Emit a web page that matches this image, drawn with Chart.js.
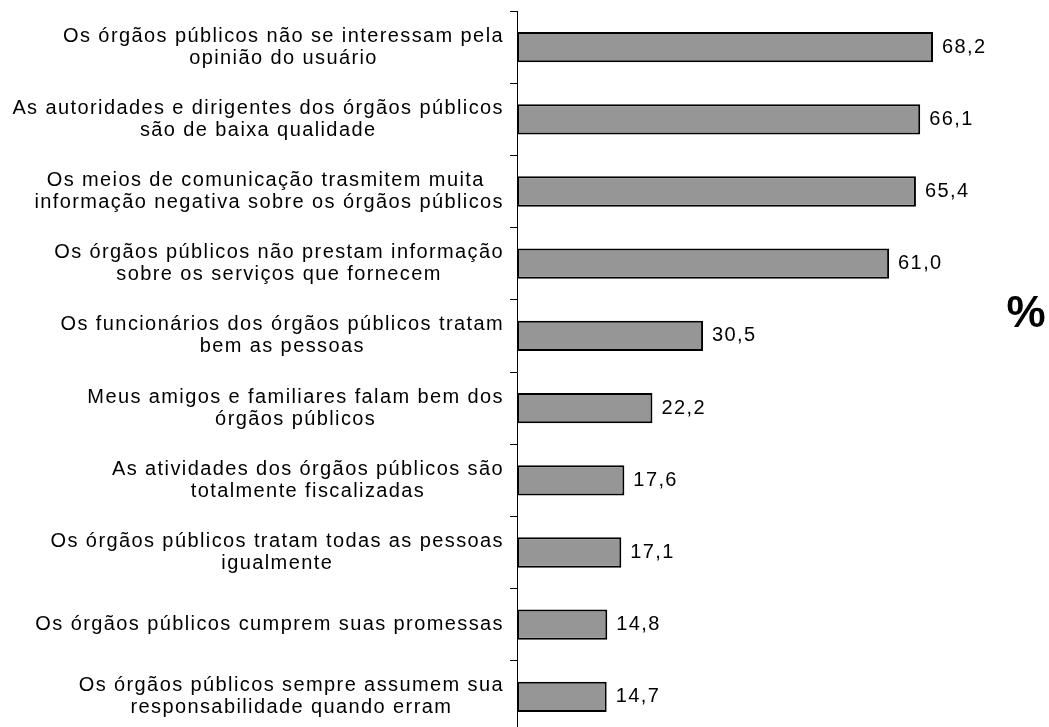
<!DOCTYPE html>
<html>
<head>
<meta charset="utf-8">
<script src="https://cdn.jsdelivr.net/npm/chart.js@4/dist/chart.umd.min.js"></script>
<style>
html,body{margin:0;padding:0;background:#fff;overflow:hidden;}
#wrap{width:1049px;height:733px;}
</style>
</head>
<body>
<div id="wrap"><canvas id="c" width="1049" height="733"></canvas></div>
<script>
const categories = [
  ["Os órgãos públicos não se interessam pela", "opinião do usuário"],
  ["As autoridades e dirigentes dos órgãos públicos", "são de baixa qualidade"],
  ["Os meios de comunicação trasmitem muita ", "informação negativa sobre os órgãos públicos"],
  ["Os órgãos públicos não prestam informação", "sobre os serviços que fornecem"],
  ["Os funcionários dos órgãos públicos tratam", "bem as pessoas"],
  ["Meus amigos e familiares falam bem dos", "órgãos públicos"],
  ["As atividades dos órgãos públicos são", "totalmente fiscalizadas"],
  ["Os órgãos públicos tratam todas as pessoas", "igualmente"],
  ["Os órgãos públicos cumprem suas promessas"],
  ["Os órgãos públicos sempre assumem sua", "responsabilidade quando erram"]
];
const values = [68.2, 66.1, 65.4, 61.0, 30.5, 22.2, 17.6, 17.1, 14.8, 14.7];
const unitLabel = "%";

const FONT = '"Liberation Sans", Arial, sans-serif';
const SPACING = '1.4px';

const labelPlugin = {
  id: 'labelPlugin',
  afterDraw(chart) {
    const ctx = chart.ctx;
    const y = chart.scales.y;
    ctx.save();
    ctx.font = '20px ' + FONT;
    try { ctx.letterSpacing = SPACING; } catch (e) {}
    ctx.fillStyle = '#000';
    ctx.textBaseline = 'middle';
    ctx.textAlign = 'center';
    const rightEdge = 504;
    const lh = 22;
    categories.forEach((lines, i) => {
      const cy = y.getPixelForTick(i);
      let w = 0;
      lines.forEach(l => { w = Math.max(w, ctx.measureText(l.trimEnd()).width); });
      const cx = rightEdge - w / 2;
      lines.forEach((l, j) => {
        ctx.fillText(l, cx, cy + (j - (lines.length - 1) / 2) * lh);
      });
    });
    // value labels
    ctx.textAlign = 'left';
    const meta = chart.getDatasetMeta(0);
    meta.data.forEach((bar, i) => {
      ctx.fillText(values[i].toFixed(1).replace('.', ','), bar.x + 9, bar.y);
    });
    // unit
    try { ctx.letterSpacing = '0px'; } catch (e) {}
    ctx.font = 'bold 44px ' + FONT;
    ctx.textAlign = 'center';
    ctx.fillText(unitLabel, 1026, 315);
    ctx.restore();
  }
};

new Chart(document.getElementById('c'), {
  type: 'bar',
  data: {
    labels: categories,
    datasets: [{
      data: values,
      backgroundColor: '#969696',
      borderColor: '#000000',
      borderWidth: 2,
      borderSkipped: false,
      barPercentage: 0.42,
      categoryPercentage: 1.0
    }]
  },
  options: {
    indexAxis: 'y',
    responsive: false,
    animation: false,
    devicePixelRatio: 1,
    layout: { padding: { left: 0, top: 11, right: 44, bottom: 0 } },
    plugins: { legend: { display: false }, tooltip: { enabled: false } },
    scales: {
      x: { display: false, min: 0, max: 80 },
      y: {
        afterFit(scale) { scale.width = 517; },
        ticks: { display: false },
        grid: {
          display: true,
          drawOnChartArea: false,
          drawTicks: true,
          tickLength: 7,
          color: '#000',
          lineWidth: 1,
          offset: true
        },
        border: { display: true, color: '#000', width: 1 }
      }
    }
  },
  plugins: [labelPlugin]
});
</script>
</body>
</html>
